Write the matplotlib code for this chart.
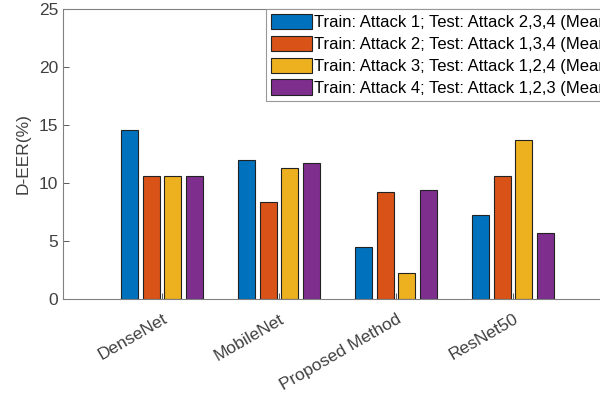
import matplotlib.pyplot as plt
import numpy as np

plt.rcParams['font.family'] = ['Liberation Sans', 'DejaVu Sans']

models = ['DenseNet', 'MobileNet', 'Proposed Method', 'ResNet50']
series_labels = [
    'Train: Attack 1; Test: Attack 2,3,4 (Mean)',
    'Train: Attack 2; Test: Attack 1,3,4 (Mean)',
    'Train: Attack 3; Test: Attack 1,2,4 (Mean)',
    'Train: Attack 4; Test: Attack 1,2,3 (Mean)',
]
attack1 = [14.6, 12.0, 4.5, 7.2]
attack2 = [10.6, 8.4, 9.2, 10.6]
attack3 = [10.6, 11.3, 2.2, 13.7]
attack4 = [10.6, 11.7, 9.4, 5.7]
colors = ['#0072BD', '#D95319', '#EDB120', '#7E2F8E']

fig = plt.figure(figsize=(6, 4), dpi=100)
ax = fig.add_axes([63/600, 1 - 299/400, 549/600, 290/400])

x = np.arange(1, len(models) + 1)
offsets = [-0.274, -0.09, 0.09, 0.274]
for vals, off, c, lab in zip([attack1, attack2, attack3, attack4], offsets, colors, series_labels):
    ax.bar(x + off, vals, width=0.145, color=c, edgecolor='#222222', linewidth=0.8, label=lab)

ax.set_xlim(0.154, 4.846)
ax.set_ylim(0, 25)
ax.set_yticks([0, 5, 10, 15, 20, 25])
ax.set_xticks(x)
ax.set_xticklabels(models, rotation=30, ha='right', rotation_mode='anchor', fontsize=13)
ax.set_ylabel('D-EER(%)', fontsize=12.5, color='#404040', labelpad=6)
ax.tick_params(direction='in', labelsize=12.5, colors='#404040', length=4, width=0.6)
ax.tick_params(axis='x', pad=9)
for s in ax.spines.values():
    s.set_color('#808080')
    s.set_linewidth(0.8)

leg = ax.legend(loc='upper left', bbox_to_anchor=(203/549, 1.0), fontsize=12,
                fancybox=False, framealpha=1, edgecolor='#999999',
                handlelength=2.45, handleheight=1.05, handletextpad=0.1,
                labelspacing=0.32, borderpad=0.3, borderaxespad=0)
leg.get_frame().set_linewidth(0.8)

fig.savefig('out.png', dpi=100)
